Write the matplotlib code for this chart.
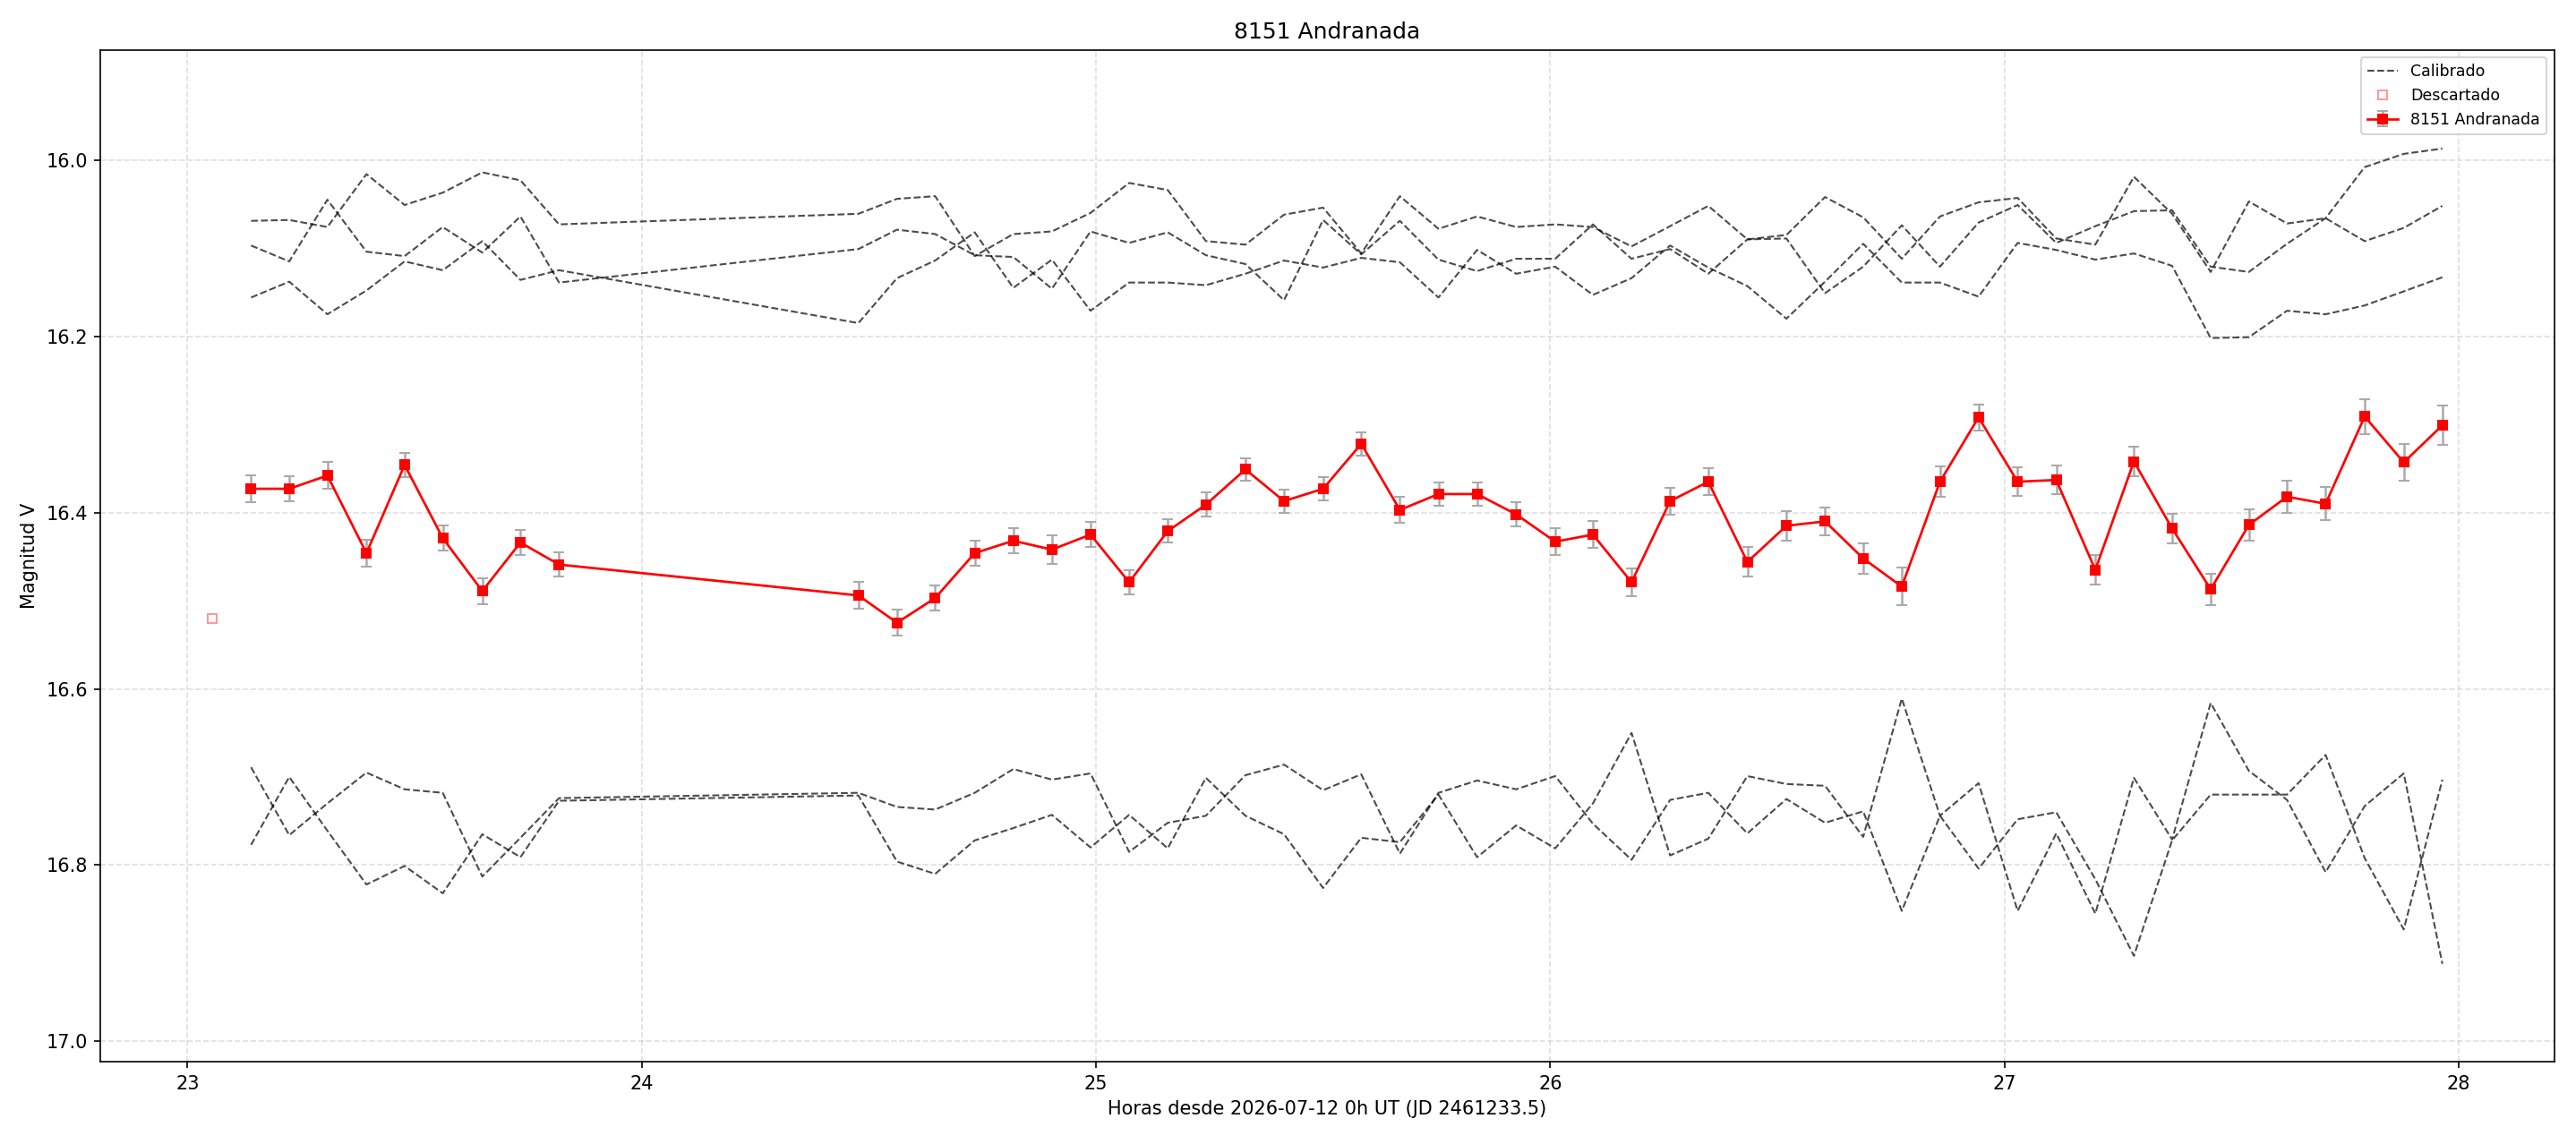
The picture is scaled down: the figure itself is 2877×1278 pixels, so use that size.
import matplotlib.pyplot as plt
from matplotlib.ticker import MultipleLocator

# tiempos (horas desde 2026-07-12 0h UT)
t = [23.140, 23.224, 23.308, 23.394, 23.478, 23.562, 23.649, 23.733, 23.818,
     24.477, 24.562, 24.646, 24.733, 24.818, 24.903, 24.988, 25.073, 25.158,
     25.242, 25.329, 25.414, 25.500, 25.584, 25.669, 25.754, 25.839, 25.925,
     26.011, 26.094, 26.179, 26.264, 26.348, 26.434, 26.520, 26.605, 26.689,
     26.774, 26.858, 26.943, 27.029, 27.114, 27.200, 27.285, 27.369, 27.454,
     27.538, 27.622, 27.707, 27.793, 27.879, 27.964]

# objetivo
mag = [16.373, 16.373, 16.358, 16.446, 16.346, 16.429, 16.489, 16.434, 16.459,
       16.494, 16.525, 16.497, 16.446, 16.432, 16.442, 16.425, 16.479, 16.421,
       16.391, 16.351, 16.387, 16.373, 16.322, 16.397, 16.379, 16.379, 16.402,
       16.433, 16.425, 16.479, 16.387, 16.365, 16.456, 16.415, 16.410, 16.452,
       16.484, 16.365, 16.292, 16.365, 16.363, 16.465, 16.342, 16.418, 16.487,
       16.414, 16.382, 16.390, 16.291, 16.343, 16.301]
err = [0.015, 0.014, 0.015, 0.015, 0.0135, 0.014, 0.0147, 0.0145, 0.014,
       0.015, 0.015, 0.0144, 0.014, 0.014, 0.016, 0.014, 0.014, 0.013,
       0.0135, 0.013, 0.013, 0.0135, 0.0134, 0.0144, 0.0134, 0.0134, 0.014,
       0.015, 0.015, 0.016, 0.015, 0.015, 0.017, 0.017, 0.016, 0.017,
       0.0215, 0.017, 0.015, 0.016, 0.016, 0.017, 0.017, 0.017, 0.018,
       0.018, 0.018, 0.019, 0.020, 0.021, 0.022]

# punto descartado
t_desc = [23.055]
mag_desc = [16.520]

# estrellas de comparacion calibradas
comp1 = [16.069, 16.068, 16.076, 16.016, 16.051, 16.037, 16.014, 16.023, 16.073,
         16.061, 16.044, 16.041, 16.109, 16.084, 16.081, 16.060, 16.026, 16.034,
         16.092, 16.096, 16.062, 16.054, 16.106, 16.041, 16.078, 16.064, 16.076,
         16.073, 16.076, 16.098, 16.075, 16.052, 16.090, 16.085, 16.042, 16.065,
         16.112, 16.064, 16.048, 16.043, 16.089, 16.096, 16.019, 16.061, 16.127,
         16.047, 16.072, 16.066, 16.092, 16.077, 16.052]
comp2 = [16.097, 16.115, 16.045, 16.104, 16.109, 16.076, 16.105, 16.064, 16.139,
         16.101, 16.079, 16.084, 16.108, 16.110, 16.146, 16.081, 16.094, 16.082,
         16.108, 16.118, 16.159, 16.068, 16.107, 16.069, 16.113, 16.126, 16.112,
         16.112, 16.073, 16.112, 16.101, 16.129, 16.090, 16.089, 16.151, 16.121,
         16.074, 16.121, 16.071, 16.051, 16.094, 16.075, 16.058, 16.057, 16.121,
         16.127, 16.095, 16.066, 16.008, 15.993, 15.987]
comp3 = [16.156, 16.138, 16.175, 16.148, 16.115, 16.125, 16.092, 16.136, 16.125,
         16.185, 16.134, 16.114, 16.082, 16.145, 16.113, 16.171, 16.139, 16.139,
         16.142, 16.129, 16.114, 16.122, 16.111, 16.116, 16.156, 16.102, 16.129,
         16.121, 16.153, 16.134, 16.097, 16.122, 16.143, 16.180, 16.138, 16.095,
         16.139, 16.139, 16.155, 16.094, 16.102, 16.113, 16.106, 16.120, 16.202,
         16.201, 16.171, 16.175, 16.165, 16.149, 16.133]
comp4 = [16.689, 16.766, 16.730, 16.695, 16.714, 16.718, 16.813, 16.769, 16.724,
         16.718, 16.734, 16.737, 16.718, 16.691, 16.703, 16.696, 16.785, 16.752,
         16.744, 16.698, 16.686, 16.715, 16.697, 16.787, 16.718, 16.704, 16.714,
         16.699, 16.753, 16.794, 16.726, 16.718, 16.764, 16.725, 16.752, 16.739,
         16.852, 16.744, 16.804, 16.748, 16.740, 16.816, 16.903, 16.772, 16.720,
         16.720, 16.720, 16.675, 16.792, 16.873, 16.703]
comp5 = [16.777, 16.700, 16.761, 16.822, 16.801, 16.832, 16.765, 16.791, 16.727,
         16.721, 16.796, 16.810, 16.772, 16.758, 16.743, 16.780, 16.743, 16.781,
         16.701, 16.744, 16.765, 16.826, 16.769, 16.774, 16.720, 16.791, 16.755,
         16.781, 16.730, 16.650, 16.789, 16.770, 16.699, 16.708, 16.710, 16.768,
         16.611, 16.744, 16.707, 16.852, 16.764, 16.855, 16.701, 16.771, 16.616,
         16.693, 16.726, 16.808, 16.733, 16.696, 16.912]

fig = plt.figure(figsize=(19.18, 8.52), dpi=150)
ax = fig.add_axes([0.0391, 0.072, 0.9524, 0.8844])

for i, c in enumerate([comp1, comp2, comp3, comp4, comp5]):
    ax.plot(t, c, '--', color='k', alpha=0.7, lw=1,
            label='Calibrado' if i == 0 else '_nolegend_')

ax.plot(t_desc, mag_desc, 's', mfc='none', mec='red', alpha=0.4,
        ms=5, label='Descartado')

ax.errorbar(t, mag, yerr=err, fmt='-s', color='red', ms=5, lw=1.3,
            ecolor='#aaaaaa', elinewidth=1.2, capsize=3, label='8151 Andranada')

ax.set_xlim(22.809, 28.21)
ax.set_ylim(17.023, 15.875)
ax.yaxis.set_major_locator(MultipleLocator(0.2))
ax.grid(True, ls='--', alpha=0.4)

ax.set_title('8151 Andranada')
ax.set_xlabel('Horas desde 2026-07-12 0h UT (JD 2461233.5)')
ax.set_ylabel('Magnitud V')
ax.legend(loc='upper right', fontsize='small')

fig.savefig('out.png', dpi=150)
